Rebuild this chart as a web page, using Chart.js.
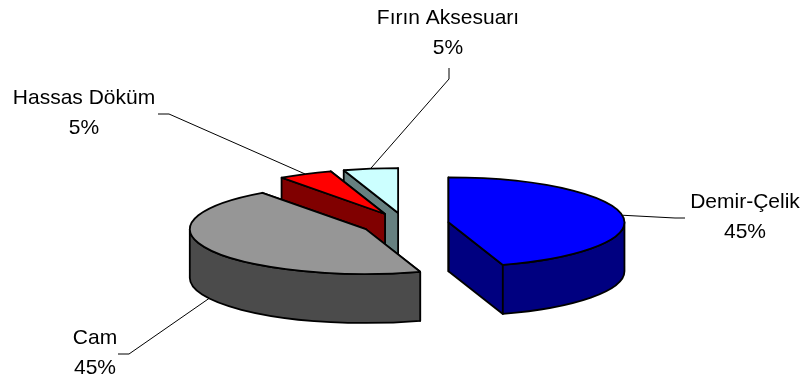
<!DOCTYPE html>
<html>
<head>
<meta charset="utf-8">
<title>Sektörler</title>
<script src="https://cdn.jsdelivr.net/npm/chart.js@4"></script>
<style>
    html, body { margin: 0; background: #ffffff; }
    #sectorChart { display: block; }
</style>
</head>
<body>
<canvas id="sectorChart" width="803" height="381"></canvas>
<script>
const categories = ['Demir-Çelik', 'Cam', 'Hassas Döküm', 'Fırın Aksesuarı'];
const shares = [45, 45, 5, 5];
const topColors = ['#0000ff', '#969696', '#ff0000', '#ccffff'];
const wallColors = ['#000080', '#4b4b4b', '#800000', '#668080'];

// label placement: text centre, first baseline, elbow of the leader line, end of the leader line
const labelX = [745, 95, 84, 448];
const labelY = [208, 344, 104, 24];
const elbows = [[675, 218], [129, 354], [169, 114], [449, 79]];
const leaderEnds = [[685, 218], [118, 354], [158, 114], [449, 68]];

const tilt = 0.255;      // vertical squash of the pie
const depth = 49;        // height of the extruded side
const explode = 44;      // distance each slice is pulled out
const drawOrder = [3, 2, 0, 1];

function sliceGeometry(arc) {
    const mid = (arc.startAngle + arc.endAngle) / 2;
    return {
        x: arc.x + Math.cos(mid) * explode,
        y: arc.y + Math.sin(mid) * explode * tilt,
        r: arc.outerRadius,
        start: arc.startAngle,
        end: arc.endAngle,
        mid: mid
    };
}

function rimPoint(s, angle) {
    return [s.x + Math.cos(angle) * s.r, s.y + Math.sin(angle) * s.r * tilt];
}

function fillStroke(ctx, color) {
    ctx.fillStyle = color;
    ctx.fill();
    ctx.stroke();
}

function drawCutFace(ctx, s, angle, color) {
    const p = rimPoint(s, angle);
    ctx.beginPath();
    ctx.moveTo(s.x, s.y);
    ctx.lineTo(p[0], p[1]);
    ctx.lineTo(p[0], p[1] + depth);
    ctx.lineTo(s.x, s.y + depth);
    ctx.closePath();
    fillStroke(ctx, color);
}

function drawOuterWall(ctx, s, color) {
    const from = Math.max(s.start, 0);
    const to = Math.min(s.end, Math.PI);
    if (to <= from) return;
    ctx.beginPath();
    ctx.ellipse(s.x, s.y, s.r, s.r * tilt, 0, from, to);
    ctx.ellipse(s.x, s.y + depth, s.r, s.r * tilt, 0, to, from, true);
    ctx.closePath();
    fillStroke(ctx, color);
}

const pie3d = {
    id: 'pie3d',
    beforeDatasetsDraw(chart) {
        const ctx = chart.ctx;
        const arcs = chart.getDatasetMeta(0).data;
        ctx.save();
        ctx.lineWidth = 1.8;
        ctx.lineJoin = 'round';
        ctx.strokeStyle = '#000000';

        drawOrder.forEach(function (i) {
            const arc = arcs[i];
            const s = sliceGeometry(arc);
            // end face first, the start face sits in front of it on the small slices
            drawCutFace(ctx, s, s.end, wallColors[i]);
            drawCutFace(ctx, s, s.start, wallColors[i]);
            drawOuterWall(ctx, s, wallColors[i]);

            // top face, filled by the arc element under the squash
            ctx.save();
            ctx.translate(s.x, s.y);
            ctx.scale(1, tilt);
            ctx.translate(-arc.x, -arc.y);
            arc.draw(ctx);
            ctx.restore();

            ctx.beginPath();
            ctx.moveTo(s.x, s.y);
            ctx.ellipse(s.x, s.y, s.r, s.r * tilt, 0, s.start, s.end);
            ctx.closePath();
            ctx.stroke();
        });
        ctx.restore();
        return false;
    },
    afterDraw(chart) {
        const ctx = chart.ctx;
        const arcs = chart.getDatasetMeta(0).data;
        ctx.save();
        ctx.strokeStyle = '#000000';
        ctx.lineWidth = 1;
        ctx.fillStyle = '#000000';
        ctx.font = '21px "Liberation Sans", Arial, sans-serif';
        ctx.textAlign = 'center';
        ctx.textBaseline = 'alphabetic';

        categories.forEach(function (name, i) {
            const s = sliceGeometry(arcs[i]);
            const p = rimPoint(s, s.mid);
            const startY = Math.sin(s.mid) > 0 ? p[1] + depth : p[1];
            ctx.beginPath();
            ctx.moveTo(p[0], startY);
            ctx.lineTo(elbows[i][0], elbows[i][1]);
            ctx.lineTo(leaderEnds[i][0], leaderEnds[i][1]);
            ctx.stroke();

            ctx.fillText(name, labelX[i], labelY[i]);
            ctx.fillText(shares[i] + '%', labelX[i], labelY[i] + 30);
        });
        ctx.restore();
    }
};

const sectorChart = new Chart(document.getElementById('sectorChart'), {
    type: 'pie',
    data: {
        labels: categories,
        datasets: [{
            data: shares,
            backgroundColor: topColors,
            borderWidth: 0
        }]
    },
    options: {
        responsive: false,
        animation: false,
        radius: 176,
        layout: { padding: { left: 7, top: 67 } },
        plugins: {
            legend: { display: false },
            tooltip: { enabled: false }
        }
    },
    plugins: [pie3d]
});
</script>
</body>
</html>
